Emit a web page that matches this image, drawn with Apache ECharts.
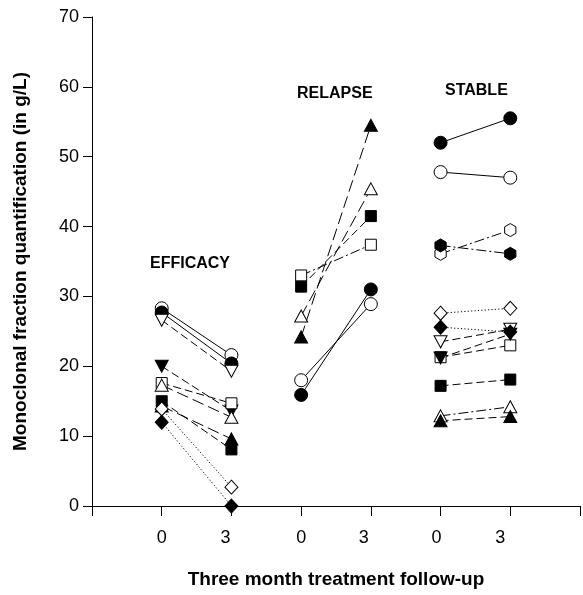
<!DOCTYPE html>
<html><head><meta charset="utf-8">
<script src="https://cdn.jsdelivr.net/npm/echarts@6/dist/echarts.min.js"></script>
<style>html,body{margin:0;padding:0;background:#fff}#c{width:583px;height:595px}</style>
</head><body><div id="c"></div>
<script>
// ---- data ----
const timeLabels = ['0', '3'];
const groupNames = ['EFFICACY', 'RELAPSE', 'STABLE'];
const yTicks = [0, 10, 20, 30, 40, 50, 60, 70];
const efficacyMonth0 = [28.3, 27.7, 26.6, 20.0, 17.6, 17.3, 15.0, 14.3, 13.9, 12.0];
const efficacyMonth3 = [21.6, 20.4, 19.3, 13.6, 14.7, 12.7, 8.1, 9.6, 2.7, 0.0];
const relapseMonth0 = [33.0, 31.4, 27.2, 24.2, 18.0, 15.9];
const relapseMonth3 = [37.4, 41.5, 45.4, 54.5, 28.9, 31.0];
const stableMonth0 = [52.0, 47.8, 36.1, 37.3, 23.5, 21.3, 21.2, 17.2, 12.9, 12.2, 27.6, 25.6];
const stableMonth3 = [55.5, 47.0, 39.5, 36.1, 25.3, 23.0, 24.6, 18.1, 14.2, 12.8, 28.3, 24.9];

// ---- styles (marker, line type) ----
const efficacyStyle = [
  ['oCircle', 'solid'], ['fCircle', 'solid'], ['oInv', 'dashed'], ['fInv', 'dashed'],
  ['oSquare', 'dashed'], ['oTri', 'long'], ['fSquare', 'dashed'], ['fTri', 'long'],
  ['oDiamond', 'dotted'], ['fDiamond', 'dotted']
];
const relapseStyle = [
  ['oSquare', 'dashdot'], ['fSquare', 'dashed'], ['oTri', 'long'], ['fTri', 'long'],
  ['oCircle', 'solid'], ['fCircle', 'solid']
];
const stableStyle = [
  ['fCircle', 'solid'], ['oCircle', 'solid'], ['oHex', 'dashdot'], ['fHex', 'dashdot'],
  ['oInv', 'dashed'], ['oSquare', 'dashed'], ['fInv', 'dashed'], ['fSquare', 'dashed'],
  ['oTri', 'dashdot'], ['fTri', 'dashed'], ['oDiamond', 'dotted'], ['fDiamond', 'dotted']
];

const HEX = 'path://M0,-1 L0.866,-0.5 L0.866,0.5 L0,1 L-0.866,0.5 L-0.866,-0.5 Z';
const markerDefs = {
  Circle: { symbol: 'circle', size: 13, rot: 0 },
  Square: { symbol: 'rect', size: 11, rot: 0 },
  Tri: { symbol: 'triangle', size: [13, 12], rot: 0 },
  Inv: { symbol: 'triangle', size: [13, 12], rot: 180 },
  Diamond: { symbol: 'diamond', size: [13, 14], rot: 0 },
  Hex: { symbol: HEX, size: 13, rot: 0 }
};
const dashDefs = {
  solid: 'solid', dashed: [8, 4], long: [12, 5], dashdot: [10, 3, 2, 3], dotted: [1.2, 2.2]
};

const series = [];
function addGroup(gi, m0, m3, styles) {
  for (let i = 0; i < m0.length; i++) {
    const [mk, lt] = styles[i];
    const filled = mk[0] === 'f';
    const def = markerDefs[mk.slice(1)];
    series.push({
      type: 'line',
      data: [[2 * gi + 1, m0[i]], [2 * gi + 2, m3[i]]],
      symbol: def.symbol,
      symbolSize: def.size,
      symbolRotate: def.rot,
      symbolKeepAspect: true,
      showAllSymbol: true,
      lineStyle: { color: '#000', width: 1, type: dashDefs[lt] },
      itemStyle: { color: filled ? '#000' : '#fff', borderColor: '#000', borderWidth: 1, opacity: 1 },
      emphasis: { disabled: true },
      silent: true,
      z: 3
    });
  }
}
addGroup(0, efficacyMonth0, efficacyMonth3, efficacyStyle);
addGroup(1, relapseMonth0, relapseMonth3, relapseStyle);
addGroup(2, stableMonth0, stableMonth3, stableStyle);

const labelShift = { 1: 0, 2: -6, 3: 0, 4: -7, 5: -4, 6: -10 };

const chart = echarts.init(document.getElementById('c'), null, { renderer: 'canvas' });
chart.setOption({
  animation: false,
  backgroundColor: '#fff',
  grid: { left: 92, right: 1, top: 17, bottom: 89, containLabel: false },
  xAxis: {
    type: 'value', min: 0, max: 7, interval: 1,
    name: 'Three month treatment follow-up', nameLocation: 'middle', nameGap: 64,
    nameTextStyle: { fontFamily: 'Liberation Sans, Arial, sans-serif', fontWeight: 'bold', fontSize: 19, color: '#000' },
    axisLine: { show: true, lineStyle: { color: '#000', width: 1 } },
    axisTick: { show: true, inside: false, length: 10, lineStyle: { color: '#000' } },
    splitLine: { show: false },
    axisLabel: {
      margin: 23, color: '#000', fontFamily: 'Liberation Sans, Arial, sans-serif', fontSize: 18,
      showMinLabel: true, showMaxLabel: true,
      formatter: function (v) {
        if (v >= 1 && v <= 6) {
          const s = labelShift[v];
          const t = timeLabels[(v - 1) % 2];
          return s < 0 ? '{l|' + t + '}' + '{p' + (-s * 2) + '|}' : t;
        }
        return '';
      },
      rich: {
        l: { fontSize: 18, fontFamily: 'Liberation Sans, Arial, sans-serif', color: '#000' },
        p12: { width: 12 }, p14: { width: 14 }, p8: { width: 8 }, p20: { width: 20 }
      }
    }
  },
  yAxis: {
    type: 'value', min: yTicks[0], max: yTicks[yTicks.length - 1], interval: 10,
    name: 'Monoclonal fraction quantification (in g/L)', nameLocation: 'middle', nameGap: 62,
    nameTextStyle: { fontFamily: 'Liberation Sans, Arial, sans-serif', fontWeight: 'bold', fontSize: 19, color: '#000' },
    axisLine: { show: true, lineStyle: { color: '#000', width: 1 } },
    axisTick: { show: true, inside: false, length: 9, lineStyle: { color: '#000' } },
    splitLine: { show: false },
    axisLabel: { margin: 13, color: '#000', fontFamily: 'Liberation Sans, Arial, sans-serif', fontSize: 18 }
  },
  graphic: [
    { type: 'text', left: 150, top: 256, style: { text: groupNames[0], font: 'bold 16px "Liberation Sans", Arial, sans-serif', fill: '#000' } },
    { type: 'text', left: 297, top: 86, style: { text: groupNames[1], font: 'bold 16px "Liberation Sans", Arial, sans-serif', fill: '#000' } },
    { type: 'text', left: 445, top: 83, style: { text: groupNames[2], font: 'bold 16px "Liberation Sans", Arial, sans-serif', fill: '#000' } }
  ],
  series: series
});
</script>
</body></html>
